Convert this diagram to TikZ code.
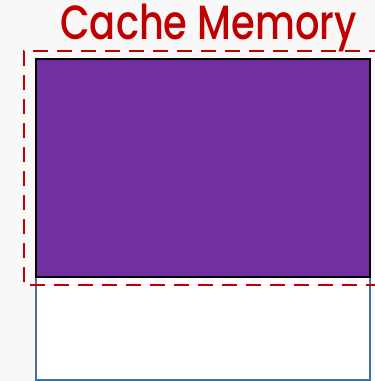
\documentclass[tikz,border=0pt]{standalone}
\usepackage{fontspec}
\setmainfont{Poppins}
\newfontfamily\titlefont{Poppins Medium}
\usepackage{xcolor}
\usetikzlibrary{positioning}

\definecolor{titlered}{HTML}{C00000}
\definecolor{cachepurple}{HTML}{7030A0}
\definecolor{memblue}{HTML}{41719C}
\definecolor{pagegray}{HTML}{F8F8F8}

\begin{document}
\begin{tikzpicture}[
  x=1pt, y=1pt,
  block/.style={draw, anchor=north west, inner sep=0pt, outer sep=0pt},
  bound/.style={draw=titlered, line width=2.8pt, dash pattern=on 15pt off 9pt},
]
  % Page
  \fill[pagegray] (0,0) rectangle (375,381);
  \useasboundingbox (0,0) rectangle (375,381);
  \clip (0,0) rectangle (375,381);

  % Memory
  \node[block, draw=memblue, line width=2pt, fill=white,
        minimum width=334pt, minimum height=321pt] (memory) at (36,322) {};

  % Cache part
  \node[block, draw=black, line width=2.8pt, fill=cachepurple,
        minimum width=334pt, minimum height=218pt] (cache) at (memory.north west) {};

  % Cache boundary
  \coordinate (bnw) at (24,330);
  \coordinate (bse) at (390,96);
  \draw[bound] (bse) |- (bnw) |- (bse);

  % Title
  \node[text=titlered, font=\titlefont\fontsize{48}{48}\selectfont, anchor=base,
        inner sep=0pt, xscale=0.8, transform shape] (title) at (208.5,341) {Cache Memory};
\end{tikzpicture}
\end{document}
